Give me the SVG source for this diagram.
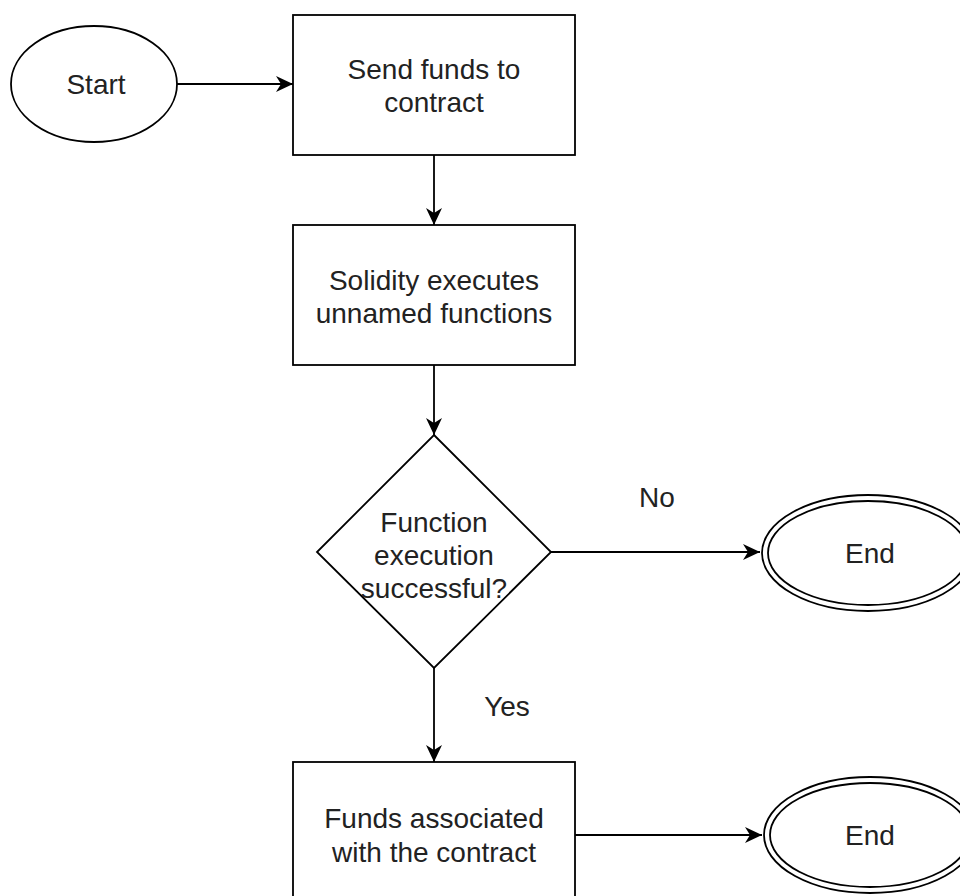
<svg xmlns="http://www.w3.org/2000/svg" width="960" height="896" viewBox="0 0 960 896">
<defs>
<style>
.s{fill:#fff;stroke:#000;stroke-width:1.8}
.t{font-family:"Liberation Sans",Arial,sans-serif;font-size:28px;fill:#222;text-anchor:middle}
.c{fill:none;stroke:#000;stroke-width:1.8}
</style>
<marker id="a" markerUnits="userSpaceOnUse" markerWidth="18" markerHeight="16" refX="17" refY="8" orient="auto">
<path d="M0,0 L17,8 L0,16 L5,8 Z" fill="#000"/>
</marker>
</defs>
<rect width="960" height="896" fill="#fff"/>
<g id="connectors">
<path class="c" d="M177,84 L293,84" marker-end="url(#a)"/>
<path class="c" d="M434,155 L434,225" marker-end="url(#a)"/>
<path class="c" d="M434,365 L434,435" marker-end="url(#a)"/>
<path class="c" d="M551,552 L760,552" marker-end="url(#a)"/>
<path class="c" d="M434,668 L434,762" marker-end="url(#a)"/>
<path class="c" d="M575,835 L762,835" marker-end="url(#a)"/>
<text class="t" x="657" y="507">No</text>
<text class="t" x="507" y="716">Yes</text>
</g>
<g id="start">
<ellipse class="s" cx="94" cy="84" rx="83" ry="58"/>
<text class="t" x="96" y="94">Start</text>
</g>
<g id="send">
<rect class="s" x="293" y="15" width="282" height="140"/>
<text class="t" x="434" y="79">Send funds to</text>
<text class="t" x="434" y="112">contract</text>
</g>
<g id="solidity">
<rect class="s" x="293" y="225" width="282" height="140"/>
<text class="t" x="434" y="290">Solidity executes</text>
<text class="t" x="434" y="323">unnamed functions</text>
</g>
<g id="decision">
<polygon class="s" points="434,435 551,552 434,668 317,552"/>
<text class="t" x="434" y="532">Function</text>
<text class="t" x="434" y="565">execution</text>
<text class="t" x="434" y="598">successful?</text>
</g>
<g id="end1">
<ellipse class="s" cx="868" cy="553" rx="106" ry="58"/>
<ellipse class="s" cx="868" cy="553" rx="100" ry="52"/>
<text class="t" x="870" y="563">End</text>
</g>
<g id="funds">
<rect class="s" x="293" y="762" width="282" height="140"/>
<text class="t" x="434" y="828">Funds associated</text>
<text class="t" x="434" y="862">with the contract</text>
</g>
<g id="end2">
<ellipse class="s" cx="870" cy="835" rx="106" ry="58"/>
<ellipse class="s" cx="870" cy="835" rx="100" ry="52"/>
<text class="t" x="870" y="845">End</text>
</g>
</svg>
